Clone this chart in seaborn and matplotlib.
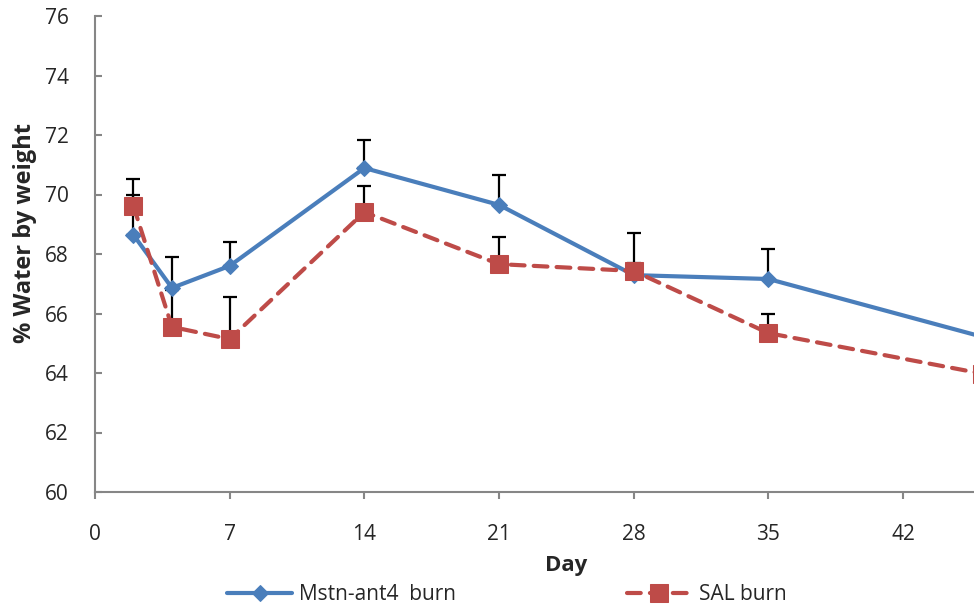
import matplotlib
matplotlib.use("Agg")
import matplotlib.pyplot as plt
import seaborn as sns
import pandas as pd
import numpy as np

days = [2, 4, 7, 14, 21, 28, 35, 46.1]
mstn_mean = [68.64, 66.86, 67.60, 70.89, 69.65, 67.29, 67.16, 65.22]
mstn_err = [1.34, 1.04, 0.80, 0.94, 1.00, 0.40, 1.01, 0.90]
sal_mean = [69.61, 65.55, 65.14, 69.41, 67.66, 67.43, 65.34, 63.98]
sal_err = [0.91, 1.25, 1.41, 0.88, 0.91, 1.28, 0.64, 0.80]
x_ticks = [0, 7, 14, 21, 28, 35, 42]
y_ticks = [60, 62, 64, 66, 68, 70, 72, 74, 76]

blue = "#4A7EBB"
red = "#BE4B48"
gray = "#868686"

sns.set_style("white")
plt.rcParams["font.family"] = ["Open Sans", "DejaVu Sans"]

fig = plt.figure(figsize=(9.74, 6.10), dpi=100)
# axis runs past the right edge of the picture, as in the cropped original
ax = fig.add_axes([95 / 974, 118 / 610, 942.8 / 974, 476 / 610])

df_m = pd.DataFrame({"day": days, "water": mstn_mean})
df_s = pd.DataFrame({"day": days, "water": sal_mean})

# upper error bars only, drawn under the series
ax.errorbar(days, mstn_mean, yerr=[np.zeros(len(days)), mstn_err], fmt="none",
            ecolor="black", elinewidth=1.6, capsize=5, capthick=1.6, zorder=1)
ax.errorbar(days, sal_mean, yerr=[np.zeros(len(days)), sal_err], fmt="none",
            ecolor="black", elinewidth=1.6, capsize=5, capthick=1.6, zorder=1)

sns.lineplot(data=df_m, x="day", y="water", ax=ax, color=blue, linewidth=3,
             marker="D", markersize=8, markeredgecolor=blue,
             label="Mstn-ant4  burn", zorder=3)
sns.lineplot(data=df_s, x="day", y="water", ax=ax, color=red, linewidth=3,
             marker="s", markersize=13, markeredgecolor=red,
             dashes=(3.3, 2.2), label="SAL burn", zorder=4)
ax.lines[-1].set_dash_capstyle("round")

ax.set_xlim(0, 49)
ax.set_ylim(60, 76)
ax.set_xticks(x_ticks)
ax.set_yticks(y_ticks)

for s in ["top", "right"]:
    ax.spines[s].set_visible(False)
for s in ["left", "bottom"]:
    ax.spines[s].set_color(gray)
    ax.spines[s].set_linewidth(1.5)

ax.tick_params(axis="y", direction="in", length=5, width=1.5, color=gray,
               pad=19, labelsize=15, left=True)
ax.tick_params(axis="x", direction="out", length=5, width=1.5, color=gray,
               pad=18, labelsize=15, bottom=True)

ax.set_xlabel("Day", fontsize=16, fontweight="bold", labelpad=7)
ax.set_ylabel("% Water by weight", fontsize=17, fontweight="bold")
ax.yaxis.set_label_coords(-58 / 942.8, 0.544)

ax.get_legend().remove()
handles, labels = ax.get_legend_handles_labels()
fig.legend(handles, labels, loc="center", bbox_to_anchor=(507 / 974, 15 / 610),
           ncol=2, frameon=False, fontsize=15, handlelength=3.1,
           columnspacing=8.2, handletextpad=0.35)

fig.savefig("out.png", dpi=100)
